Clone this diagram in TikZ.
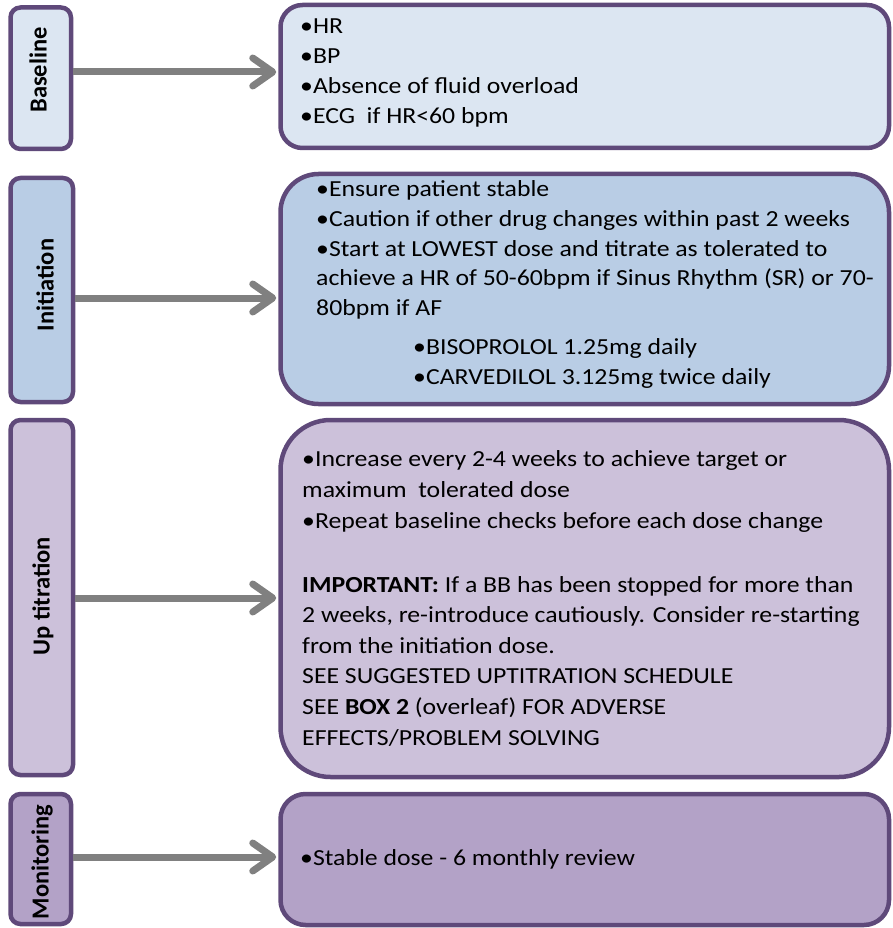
\documentclass[tikz,border=0pt]{standalone}
\usepackage{fontspec}
\setmainfont{Carlito}
\newfontfamily\bodyfont[FakeStretch=1.12]{Carlito}
\usetikzlibrary{arrows.meta}
\definecolor{bord}{HTML}{5F497A}
\definecolor{arrgray}{HTML}{808080}
\definecolor{fillA}{HTML}{DCE6F2}
\definecolor{fillB}{HTML}{B9CDE5}
\definecolor{fillC}{HTML}{CCC1DA}
\definecolor{fillD}{HTML}{B3A2C7}
\tikzset{
  labbox/.style={draw=bord, line width=4.5pt, rounded corners=10pt, inner sep=0pt},
  stagebox/.style={draw=bord, line width=4.5pt, inner sep=0pt},
  labtxt/.style={rotate=90, inner sep=0pt, font=\fontsize{24.5}{28}\selectfont\bfseries},
  bodytxt/.style={anchor=base west, inner sep=0pt, align=left, font=\bodyfont\fontsize{23}{30}\selectfont},
  arr/.style={draw=arrgray, line width=7pt, -{Straight Barb[length=20pt,width=28pt,round]}, shorten >=2pt}
}
\begin{document}
\begin{tikzpicture}[x=1pt,y=-1pt]
\useasboundingbox (0,0) rectangle (892,928);
% label boxes
\node[labbox, fill=fillA, minimum width=60.5pt, minimum height=141.5pt] (L1) at (40.75,78.25) {};
\node[labbox, fill=fillB, minimum width=62.5pt, minimum height=224pt] (L2) at (41.75,290) {};
\node[labbox, fill=fillC, minimum width=62.5pt, minimum height=355pt] (L3) at (41.75,597.5) {};
\node[labbox, fill=fillD, minimum width=60.5pt, minimum height=130pt] (L4) at (40.75,859) {};
% label texts
\node[labtxt] (n1) at (38,70) {Baseline};
\node[labtxt] (n2) at (45,285) {Initiation};
\node[labtxt] (n3) at (43,596) {Up titration};
\node[labtxt] (n4) at (42,862) {Monitoring};
% stage boxes
\node[stagebox, fill=fillA, rounded corners=22pt, minimum width=608.5pt, minimum height=143pt] (B1) at (584.75,76.5) {};
\node[stagebox, fill=fillB, rounded corners=38pt, minimum width=608.5pt, minimum height=230pt] (B2) at (584.75,289) {};
\node[stagebox, fill=fillC, rounded corners=50pt, minimum width=608.5pt, minimum height=357pt] (B3) at (584.75,598.5) {};
\node[stagebox, fill=fillD, rounded corners=25pt, minimum width=608.5pt, minimum height=131pt] (B4) at (584.75,859.5) {};
% arrow levels
\coordinate (a1) at (0,72);
\coordinate (a2) at (0,298);
\coordinate (a3) at (0,598);
\coordinate (a4) at (0,857);
\draw[arr] (L1.east |- a1) -- (B1.west |- a1);
\draw[arr] (L2.east |- a2) -- (B2.west |- a2);
\draw[arr] (L3.east |- a3) -- (B3.west |- a3);
\draw[arr] (L4.east |- a4) -- (B4.west |- a4);
% texts (base anchor = baseline of last line)
\node[bodytxt] (t1) at (300,124) {•HR\\•BP\\•Absence of fluid overload\\•ECG\ \ if HR<60 bpm};
\node[bodytxt, font=\bodyfont\fontsize{23}{29.7}\selectfont] (t2) at (316,384) {•Ensure patient stable\\
•Caution if other drug changes within past 2 weeks\\
•Start at LOWEST dose and titrate as tolerated to\\
achieve a HR of 50-60bpm if Sinus Rhythm (SR) or 70-\\
80bpm if AF\\[9pt]
\hspace*{97pt}•BISOPROLOL 1.25mg daily\\
\hspace*{97pt}•CARVEDILOL 3.125mg twice daily};
\node[bodytxt, font=\bodyfont\fontsize{23}{30.6}\selectfont] (t3) at (302,745) {•Increase every 2-4 weeks to achieve target or\\
maximum\ \ tolerated dose\\
•Repeat baseline checks before each dose change\\[33.4pt]
\textbf{IMPORTANT:} If a BB has been stopped for more than\\
2 weeks, re-introduce cautiously. Consider re-starting\\
from the initiation dose.\\
SEE SUGGESTED UPTITRATION SCHEDULE\\
SEE \textbf{BOX 2} (overleaf) FOR ADVERSE\\
EFFECTS/PROBLEM SOLVING};
\node[bodytxt] (t4) at (300,865) {•Stable dose - 6 monthly review};
\end{tikzpicture}
\end{document}
